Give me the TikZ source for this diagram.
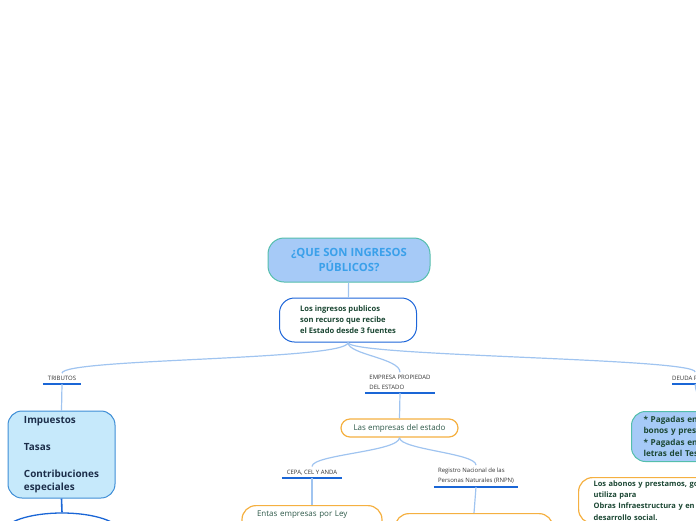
\documentclass[tikz,border=0pt]{standalone}
\usepackage{fontspec}
\setmainfont{Open Sans}
\usetikzlibrary{positioning,shapes.geometric}

\definecolor{skyfill}{RGB}{166,202,247}
\definecolor{tealline}{RGB}{84,190,172}
\definecolor{titleblue}{RGB}{58,160,234}
\definecolor{boxblue}{RGB}{30,102,217}
\definecolor{textgreen}{RGB}{27,71,51}
\definecolor{connblue}{RGB}{160,196,240}
\definecolor{ulblue}{RGB}{26,102,214}
\definecolor{paleblue}{RGB}{198,233,251}
\definecolor{midblue}{RGB}{62,142,214}
\definecolor{navytext}{RGB}{28,46,74}
\definecolor{orangeline}{RGB}{245,176,65}
\definecolor{greytext}{RGB}{47,90,74}

\begin{document}
\begin{tikzpicture}[x=1pt,y=-1pt,
  title/.style={draw=tealline,line width=1pt,fill=skyfill,rounded corners=16pt,minimum width=162pt,minimum height=44pt,align=center,text=titleblue,font=\fontsize{11.3}{14.5}\selectfont\bfseries},
  intro/.style={draw=boxblue,line width=1pt,fill=white,rounded corners=15pt,minimum width=137pt,minimum height=44pt,align=left,text=textgreen,font=\fontsize{7.6}{11}\selectfont\bfseries},
  topic/.style={inner xsep=0pt,inner ysep=3pt,align=left,text=black!80,font=\fontsize{6}{10}\selectfont},
  uline/.style={draw=ulblue,line width=1.6pt},
  conn/.style={draw=connblue,line width=1.2pt},
  sub/.style={draw=midblue,line width=1pt,fill=paleblue,rounded corners=14pt,minimum width=107pt,minimum height=87pt,align=left,text=navytext,font=\fontsize{9.9}{13.5}\selectfont\bfseries},
  orangebox/.style={draw=orangeline,line width=1.2pt,fill=white,rounded corners=9pt,align=left,text=greytext,font=\fontsize{8}{11}\selectfont},
  deudabox/.style={draw=tealline,line width=1pt,fill=skyfill,rounded corners=14pt,align=left,text=textgreen,font=\fontsize{8.2}{11.3}\selectfont\bfseries}
]
\useasboundingbox (0,0) rectangle (696,520);

% centro
\node[title] (ingresos) at (349,260) {¿QUE SON INGRESOS\\PÚBLICOS?};
\node[intro] (fuentes) at (348,320) {Los ingresos publicos\\son recurso que recibe\\el Estado desde 3 fuentes};
\draw[conn] (ingresos) -- (fuentes);

% ramas
\node[topic,minimum width=38pt,align=center,anchor=south] (tributos) at (62,384) {TRIBUTOS};
\node[topic,minimum width=70pt,anchor=south] (empresa) at (400,393) {EMPRESA PROPIEDAD\\DEL ESTADO};
\node[topic,minimum width=34pt,anchor=south west] (deudalbl) at (672,384) {DEUDA PÚBLICA};
\draw[uline] (tributos.south west) -- (tributos.south east);
\draw[uline] (empresa.south west) -- (empresa.south east);
\draw[uline] (deudalbl.south west) -- (deudalbl.south east);

\draw[conn] (fuentes.south) .. controls +(0,18) and +(0,-15) .. (tributos.north);
\draw[conn] (fuentes.south) .. controls +(0,12) and +(0,-14) .. (empresa.north);
\draw[conn] (fuentes.south) .. controls +(0,14) and +(0,-14) .. (deudalbl.north);

% tributos
\node[sub] (impuestos) at (61.5,454.5) {Impuestos\\[13.5pt]Tasas\\[13.5pt]Contribuciones\\especiales};
\draw[conn] (tributos.south) -- (impuestos.north);
\node[draw=ulblue,line width=1.3pt,fill=white,ellipse,minimum width=118pt,minimum height=40pt] (otros) at (62,533) {};
\draw[uline] (impuestos.south) -- (otros.north);

% empresas
\node[orangebox,minimum width=117pt,minimum height=18pt,align=center] (estado) at (399.5,428) {Las empresas del estado};
\draw[conn] (empresa.south) -- (estado.north);
\node[topic,minimum width=60pt,align=center,anchor=south] (cepa) at (312,478) {CEPA, CEL Y ANDA};
\node[topic,minimum width=84pt,anchor=south] (rnpn) at (476,487) {Registro Nacional de las\\Personas Naturales (RNPN)};
\draw[uline] (cepa.south west) -- (cepa.south east);
\draw[uline] (rnpn.south west) -- (rnpn.south east);
\draw[conn] (estado.south) .. controls +(0,14) and +(0,-12) .. (cepa.north);
\draw[conn] (estado.south) .. controls +(0,12) and +(0,-12) .. (rnpn.north);

\node[orangebox,rounded corners=14pt,anchor=north,text width=110pt,inner xsep=15pt,inner ysep=5pt,text depth=30pt] (ley) at (312,505) {Entas empresas por Ley};
\draw[conn] (cepa.south) -- (ley.north);
\node[orangebox,rounded corners=14pt,anchor=north,minimum width=158pt,minimum height=40pt] (utilidades) at (474,513) {};
\draw[conn] (rnpn.south) -- (utilidades.north);

% deuda
\node[deudabox,anchor=north west,text width=120pt,inner xsep=12pt,minimum height=50pt] (pagadas) at (631,411) {* Pagadas en\\bonos y prestamos\\[0pt]* Pagadas en\\letras del Tesoro};
\draw[conn] (deudalbl.south) .. controls +(0,10) and +(0,-8) .. (pagadas.north);
\node[orangebox,rounded corners=14pt,anchor=north west,text width=150pt,inner xsep=15pt,inner ysep=3pt,text=textgreen,font=\fontsize{7.5}{11.3}\selectfont\bfseries] (abonos) at (578,477) {Los abonos y prestamos, gobierno los\\utiliza para\\Obras Infraestructura y en\\desarrollo social.};
\end{tikzpicture}
\end{document}
